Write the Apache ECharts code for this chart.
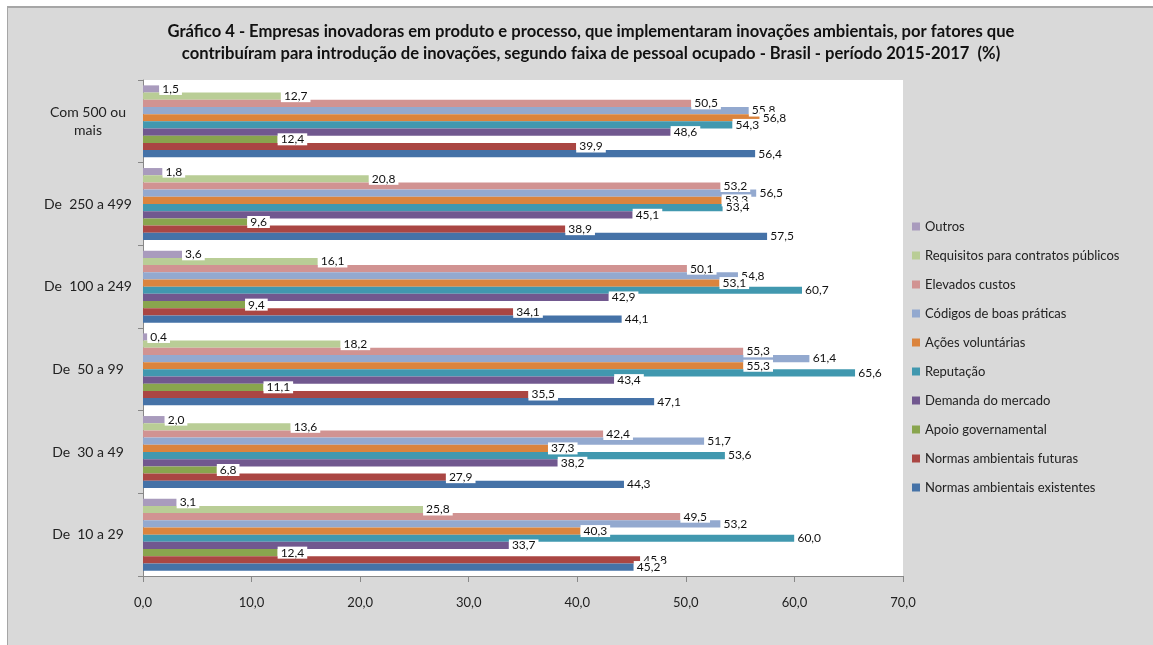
<!DOCTYPE html>
<html>
<head>
<meta charset="utf-8">
<script src="https://cdn.jsdelivr.net/npm/echarts@6/dist/echarts.min.js"></script>
<style>
  html, body { margin: 0; padding: 0; background: #fff; }
  .frame {
    position: absolute; left: 7px; top: 6px; right: 0; bottom: 0;
    background: #d9d9d9; border-left: 1px solid #a6a6a6; border-top: 2px solid #a6a6a6;
  }
  #chart { position: absolute; left: 0; top: 0; width: 1153px; height: 645px; }
</style>
</head>
<body>
<div class="frame"></div>
<div id="chart"></div>
<script>
// faixas de pessoal ocupado (de baixo para cima)
const categorias = ['De  10 a 29', 'De  30 a 49', 'De  50 a 99', 'De  100 a 249', 'De  250 a 499', 'Com 500 ou\nmais']

// valores por fator (%), na ordem das categorias
const normasExistentes = [45.2, 44.3, 47.1, 44.1, 57.5, 56.4]
const normasFuturas = [45.8, 27.9, 35.5, 34.1, 38.9, 39.9]
const apoioGov = [12.4, 6.8, 11.1, 9.4, 9.6, 12.4]
const demandaMercado = [33.7, 38.2, 43.4, 42.9, 45.1, 48.6]
const reputacao = [60.0, 53.6, 65.6, 60.7, 53.4, 54.3]
const acoesVoluntarias = [40.3, 37.3, 55.3, 53.1, 53.3, 56.8]
const codigosBoasPraticas = [53.2, 51.7, 61.4, 54.8, 56.5, 55.8]
const elevadosCustos = [49.5, 42.4, 55.3, 50.1, 53.2, 50.5]
const requisitosContratos = [25.8, 13.6, 18.2, 16.1, 20.8, 12.7]
const outros = [3.1, 2.0, 0.4, 3.6, 1.8, 1.5]

// ordem de cima para baixo dentro de cada grupo (igual a legenda)
const fatores = [
  { name: 'Outros', data: outros, color: '#A99BBD' },
  { name: 'Requisitos para contratos públicos', data: requisitosContratos, color: '#B9CD96' },
  { name: 'Elevados custos', data: elevadosCustos, color: '#D19392' },
  { name: 'Códigos de boas práticas', data: codigosBoasPraticas, color: '#93A9CF' },
  { name: 'Ações voluntárias', data: acoesVoluntarias, color: '#DB843D' },
  { name: 'Reputação', data: reputacao, color: '#4198AF' },
  { name: 'Demanda do mercado', data: demandaMercado, color: '#71588F' },
  { name: 'Apoio governamental', data: apoioGov, color: '#89A54E' },
  { name: 'Normas ambientais futuras', data: normasFuturas, color: '#AA4643' },
  { name: 'Normas ambientais existentes', data: normasExistentes, color: '#4572A7' },
]

const fonte = 'Lato, "Open Sans", sans-serif'
const virgula = (v) => v.toFixed(1).replace('.', ',')

const myChart = echarts.init(document.getElementById('chart'))
const option = {
  backgroundColor: 'transparent',
  textStyle: { fontFamily: fonte },
  title: {
    text: 'Gráfico 4 - Empresas inovadoras em produto e processo, que implementaram inovações ambientais, por fatores que\ncontribuíram para introdução de inovações, segundo faixa de pessoal ocupado - Brasil - período 2015-2017  (%)',
    left: 586,
    top: 16,
    textAlign: 'center',
    textStyle: { fontFamily: fonte, fontSize: 16.6, fontWeight: 'bold', color: '#111', lineHeight: 22 },
  },
  legend: {
    orient: 'vertical',
    left: 907,
    top: 215,
    itemWidth: 8,
    itemHeight: 8,
    itemGap: 16,
    icon: 'rect',
    textStyle: { fontFamily: fonte, fontSize: 13, color: '#222' },
    data: fatores.map((f) => f.name),
  },
  grid: {
    left: 143,
    right: 250,
    top: 80,
    bottom: 69,
    show: true,
    backgroundColor: '#fff',
    borderWidth: 0,
  },
  xAxis: {
    type: 'value',
    min: 0,
    max: 70,
    interval: 10,
    axisLine: { show: true, lineStyle: { color: '#888' } },
    axisTick: { show: true, length: 6, lineStyle: { color: '#888' } },
    splitLine: { show: false },
    axisLabel: { formatter: (v) => virgula(v), fontSize: 13, color: '#222', margin: 20, fontFamily: fonte },
  },
  yAxis: {
    type: 'category',
    data: categorias,
    axisLine: { show: true, lineStyle: { color: '#888' } },
    axisTick: { show: true, length: 5, lineStyle: { color: '#888' } },
    axisLabel: { fontSize: 14, color: '#222', align: 'center', margin: 55, lineHeight: 18, fontFamily: fonte },
  },
  series: fatores.map((f) => ({
    name: f.name,
    type: 'bar',
    data: f.data,
    barGap: '0%',
    barCategoryGap: '13%',
    itemStyle: { color: f.color },
    label: {
      show: true,
      position: 'right',
      distance: 0,
      formatter: (p) => virgula(p.value),
      fontSize: 12,
      color: '#111',
      fontFamily: fonte,
      backgroundColor: '#fff',
      padding: [0, 3, 0, 3],
    },
  })),
}
myChart.setOption(option)
</script>
</body>
</html>
